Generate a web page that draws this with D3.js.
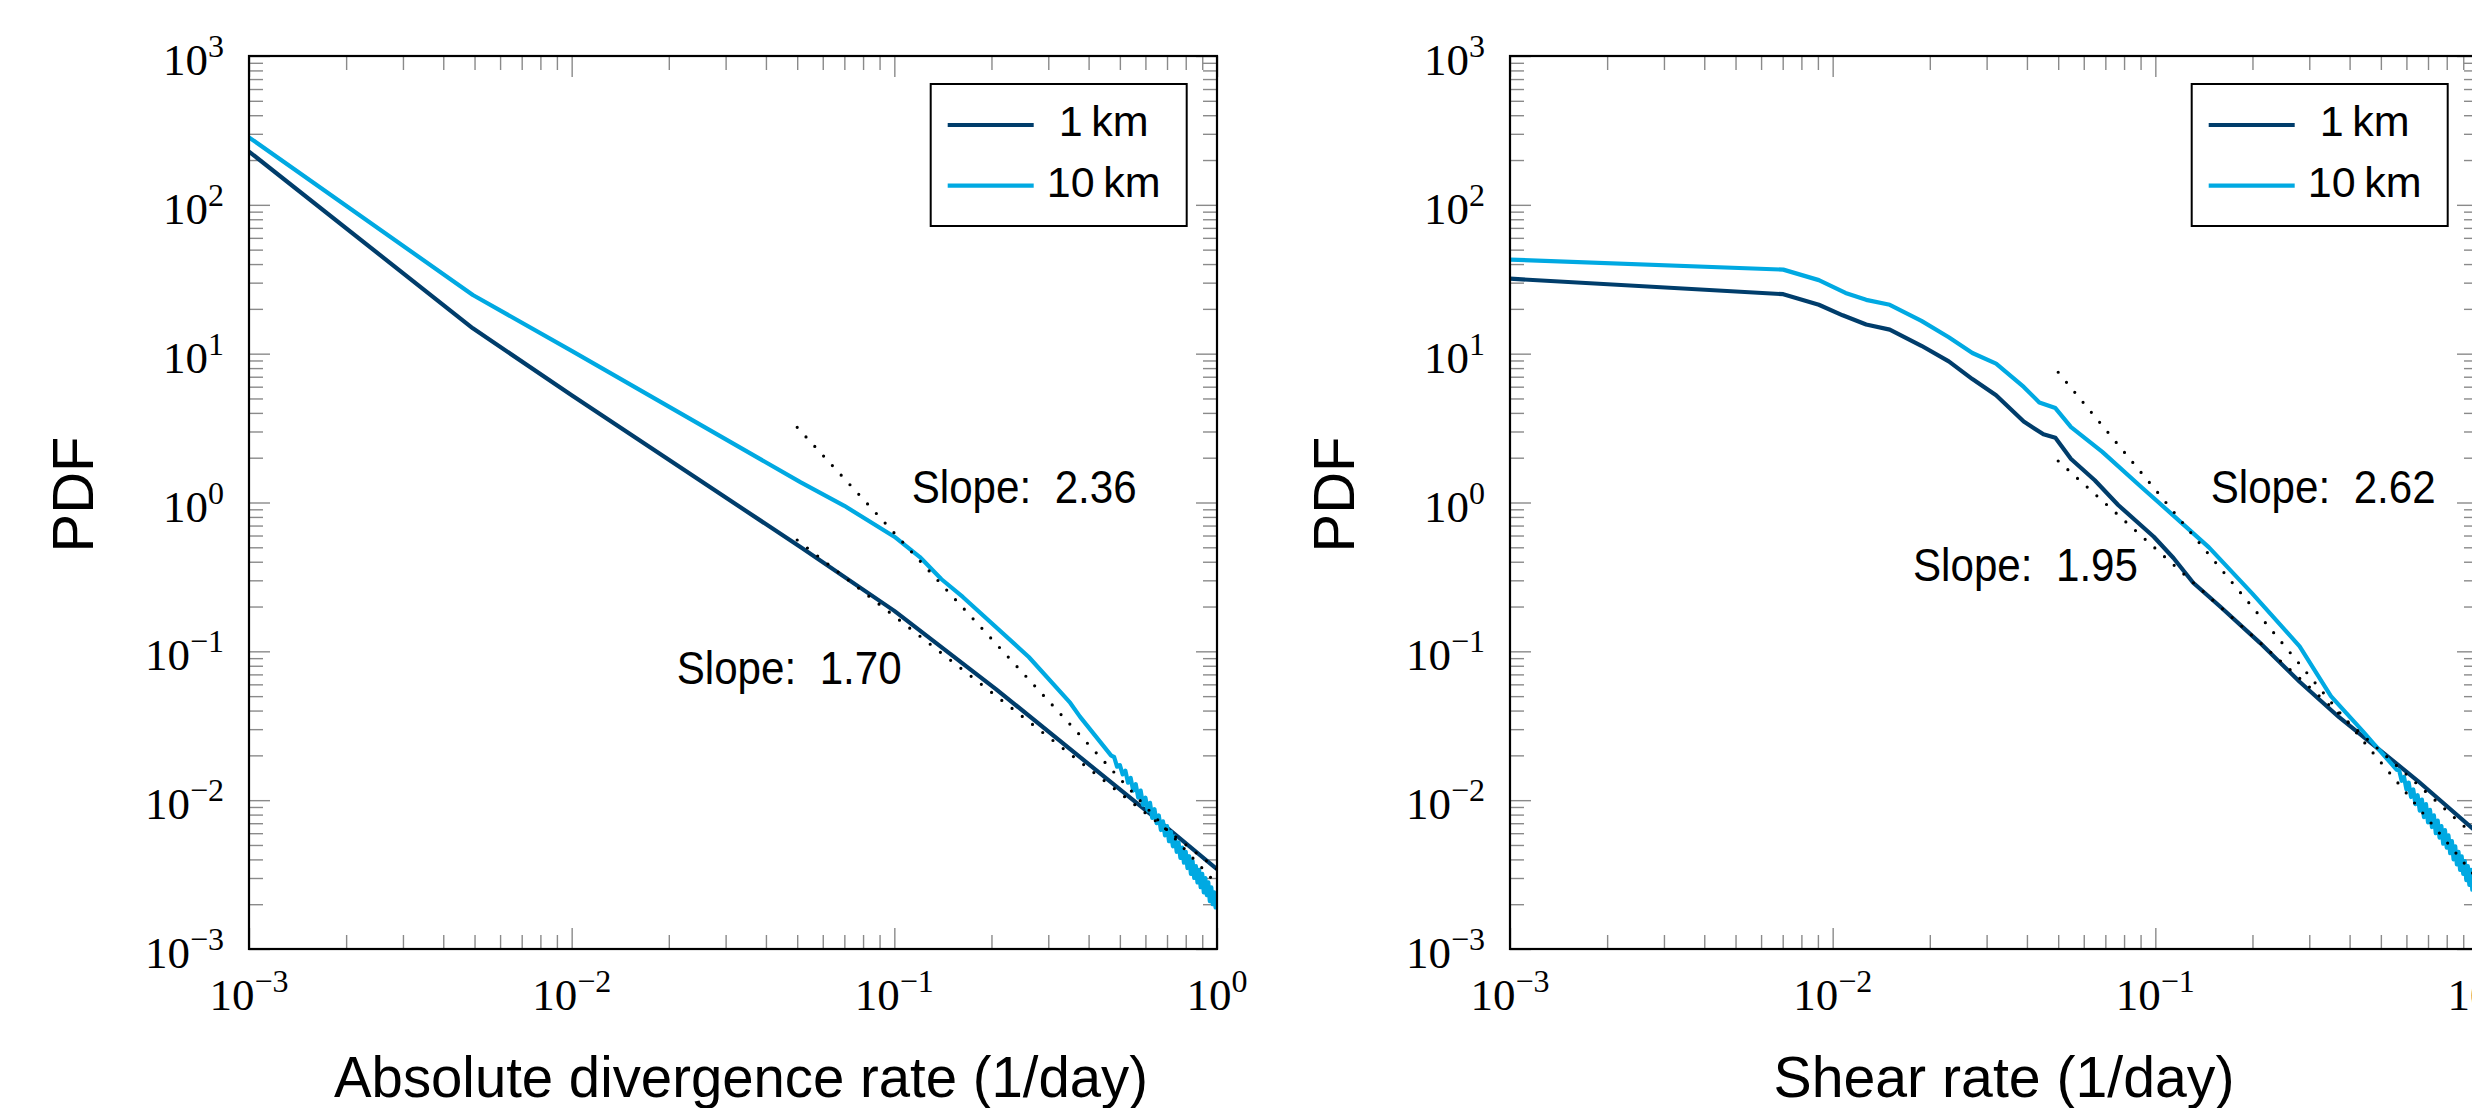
<!DOCTYPE html>
<head>
  <meta charset="utf-8">
  <title>PDF of deformation rates</title>
  <script src="https://cdn.jsdelivr.net/npm/d3@7"></script>
</head>

<style>
  body {
    margin: 0;
    background: white;
  }

  .ticks line {
    stroke: #8a8a8a;
    stroke-width: 1.4;
  }

  .frame {
    fill: none;
    stroke: black;
    stroke-width: 2.2;
  }

  .tick-label {
    font-family: "Liberation Serif", serif;
    font-size: 45px;
  }

  .axis-label {
    font-family: "Liberation Sans", sans-serif;
    font-size: 58px;
  }

  .slope-label {
    font-family: "Liberation Sans", sans-serif;
    font-size: 46px;
    white-space: pre;
  }

  .legend-text {
    font-family: "Liberation Sans", sans-serif;
    font-size: 43px;
  }

  .fit {
    fill: none;
    stroke: black;
    stroke-width: 3.2;
    stroke-linecap: round;
    stroke-dasharray: 0 13;
  }
</style>

<body>
  <svg id='chart'></svg>
</body>

<script>

var W = 2472,
    H = 1108,
    plot_w = 968,
    plot_h = 893,
    major_len = 21,
    minor_len = 14;

var colour_1km = '#003d6b',
    colour_10km = '#00a9e2';

var series_names = ['1\u2009km', '10\u2009km'];

var x_major = [1e-3, 1e-2, 1e-1, 1];
var y_major = [1e-3, 1e-2, 1e-1, 1, 1e1, 1e2, 1e3];
var minor_mult = [2, 3, 4, 5, 6, 7, 8, 9];

// absolute divergence rate, PDF
var div_1km = [[0.001, 228], [0.00494, 14.8], [0.01, 5.25], [0.0513, 0.50], [0.1, 0.187],
               [0.206, 0.056], [0.653, 0.0074], [1.0, 0.00344]];

var div_10km = [[0.001, 284], [0.00494, 24.8], [0.01, 10.45], [0.0513, 1.365], [0.07, 0.95], [0.1, 0.589],
                [0.12, 0.43], [0.140, 0.305], [0.163, 0.232], [0.261, 0.0916], [0.351, 0.045], [0.376, 0.0364],
                [0.47, 0.0199], [0.48, 0.0195], [0.49, 0.0168], [0.50, 0.0172], [0.51, 0.0149],
                [0.52, 0.0158], [0.53, 0.0131], [0.54, 0.0141], [0.55, 0.0116], [0.56, 0.0128],
                [0.57, 0.0104], [0.58, 0.0116], [0.59, 0.0093], [0.60, 0.0104], [0.61, 0.0085],
                [0.62, 0.0096], [0.63, 0.0076], [0.64, 0.0087], [0.65, 0.0070], [0.66, 0.0079],
                [0.67, 0.0063], [0.68, 0.0072], [0.69, 0.0058], [0.70, 0.0067], [0.71, 0.0053],
                [0.72, 0.0061], [0.73, 0.0049], [0.74, 0.0057], [0.75, 0.0045], [0.76, 0.0052],
                [0.77, 0.0041], [0.78, 0.0048], [0.79, 0.0038], [0.80, 0.0045], [0.81, 0.0035],
                [0.82, 0.0042], [0.83, 0.0032], [0.84, 0.0039], [0.85, 0.0030], [0.86, 0.0036],
                [0.87, 0.0028], [0.88, 0.0034], [0.89, 0.0026], [0.90, 0.0032], [0.91, 0.0024],
                [0.92, 0.0030], [0.93, 0.0023], [0.94, 0.0028], [0.95, 0.0021], [0.96, 0.0026],
                [0.97, 0.0020], [0.98, 0.0024], [0.99, 0.0019], [1.00, 0.0021]];

// shear rate, PDF
var shear_1km = [[0.001, 31.9], [0.00703, 25.1], [0.00906, 21.3], [0.01074, 18.1], [0.0127, 15.7],
                 [0.01503, 14.5], [0.01884, 11.3], [0.0229, 8.87], [0.0271, 6.75], [0.0321, 5.25],
                 [0.0391, 3.50], [0.045, 2.87], [0.049, 2.72], [0.0548, 1.96], [0.0649, 1.41],
                 [0.0767, 0.962], [0.0989, 0.589], [0.1138, 0.424], [0.131, 0.289], [0.16, 0.197],
                 [0.211, 0.114], [0.28, 0.0625], [0.371, 0.0361], [0.491, 0.0221], [0.65, 0.0135],
                 [1.0, 0.0060]];

var shear_10km = [[0.001, 42.9], [0.00703, 36.7], [0.00906, 31.2], [0.01096, 25.6], [0.0127, 23.0],
                  [0.01503, 21.3], [0.01884, 16.6], [0.0229, 12.9], [0.0271, 10.1], [0.0321, 8.57],
                  [0.0391, 5.98], [0.0437, 4.70], [0.049, 4.31], [0.0548, 3.21], [0.0685, 2.19],
                  [0.0908, 1.26], [0.1138, 0.817], [0.1466, 0.499], [0.1995, 0.245], [0.28, 0.108],
                  [0.35, 0.050], [0.44, 0.029], [0.474, 0.0241], [0.52, 0.0192], [0.56, 0.0160],
                  [0.57, 0.0158], [0.58, 0.0135], [0.59, 0.0143], [0.60, 0.0118], [0.61, 0.0131],
                  [0.62, 0.0105], [0.63, 0.0118], [0.64, 0.0094], [0.65, 0.0108], [0.66, 0.0085],
                  [0.67, 0.0101], [0.68, 0.0077], [0.69, 0.0094], [0.70, 0.0071], [0.71, 0.0086],
                  [0.72, 0.0066], [0.73, 0.0079], [0.74, 0.0060], [0.75, 0.0073], [0.76, 0.0056],
                  [0.77, 0.0067], [0.78, 0.0051], [0.79, 0.0063], [0.80, 0.0048], [0.81, 0.0058],
                  [0.82, 0.0044], [0.83, 0.0053], [0.84, 0.0040], [0.85, 0.0049], [0.86, 0.0037],
                  [0.87, 0.0045], [0.88, 0.0034], [0.89, 0.0042], [0.90, 0.0032], [0.91, 0.0039],
                  [0.92, 0.0029], [0.93, 0.0036], [0.94, 0.0027], [0.95, 0.0034], [0.96, 0.0025],
                  [0.97, 0.0031], [0.98, 0.0024], [0.99, 0.0029], [1.00, 0.0023]];

// power-law fits: end points and slope text
var div_fit_1km = [[0.05, 0.56], [1, 0.00344]];
var div_fit_10km = [[0.05, 3.2], [1, 0.00272]];
var shear_fit_1km = [[0.05, 1.9], [1, 0.0055]];
var shear_fit_10km = [[0.05, 7.5], [1, 0.00292]];

var div_slopes = ['Slope:  1.70', 'Slope:  2.36'];
var shear_slopes = ['Slope:  1.95', 'Slope:  2.62'];

var panels = [
  {left: 249, top: 56, xlabel: 'Absolute divergence rate (1/day)', xlabel_dx: 8, xlabel_w: 814,
   lines: [div_1km, div_10km], fits: [div_fit_1km, div_fit_10km], slopes: div_slopes,
   slope_pos: [[427.7, 628], [662.7, 446.7]]},
  {left: 1510, top: 56, xlabel: 'Shear rate (1/day)', xlabel_dx: 10, xlabel_w: 461,
   lines: [shear_1km, shear_10km], fits: [shear_fit_1km, shear_fit_10km], slopes: shear_slopes,
   slope_pos: [[403, 525], [700.7, 446.7]]}
];

var svg = d3.select('#chart')
  .attr('width', W)
  .attr('height', H);

svg.append('rect')
  .attr('width', W)
  .attr('height', H)
  .attr('fill', 'white');

var x_minor = [], y_minor = [];
x_major.slice(0, -1).forEach(function(d) {
  minor_mult.forEach(function(m) { x_minor.push(m * d); });
});
y_major.slice(0, -1).forEach(function(d) {
  minor_mult.forEach(function(m) { y_minor.push(m * d); });
});

panels.forEach(function(p, i) { draw_panel(p, i); });

function draw_panel(p, i) {

  var g = svg.append('g')
    .attr('transform', 'translate(' + p.left + ',' + p.top + ')');

  var x = d3.scaleLog().domain([1e-3, 1]).range([0, plot_w]);
  var y = d3.scaleLog().domain([1e-3, 1e3]).range([plot_h, 0]);

  g.append('clipPath')
    .attr('id', 'clip' + i)
    .append('rect')
    .attr('width', plot_w)
    .attr('height', plot_h);

  // ticks, inside on all four sides
  [[x_major, major_len], [x_minor, minor_len]].forEach(function(t) {
    g.append('g').attr('class', 'ticks')
      .attr('transform', 'translate(0,' + plot_h + ')')
      .call(d3.axisBottom(x).tickValues(t[0]).tickSize(-t[1]).tickFormat(''))
      .call(clean_axis);
    g.append('g').attr('class', 'ticks')
      .call(d3.axisTop(x).tickValues(t[0]).tickSize(-t[1]).tickFormat(''))
      .call(clean_axis);
  });
  [[y_major, major_len], [y_minor, minor_len]].forEach(function(t) {
    g.append('g').attr('class', 'ticks')
      .call(d3.axisLeft(y).tickValues(t[0]).tickSize(-t[1]).tickFormat(''))
      .call(clean_axis);
    g.append('g').attr('class', 'ticks')
      .attr('transform', 'translate(' + plot_w + ',0)')
      .call(d3.axisRight(y).tickValues(t[0]).tickSize(-t[1]).tickFormat(''))
      .call(clean_axis);
  });

  // tick labels 10^n
  x_major.forEach(function(v) {
    power_label(g.append('text')
      .attr('class', 'tick-label')
      .attr('x', x(v))
      .attr('y', plot_h + 61)
      .attr('text-anchor', 'middle'), v);
  });
  y_major.forEach(function(v) {
    power_label(g.append('text')
      .attr('class', 'tick-label')
      .attr('x', -25)
      .attr('y', y(v) + 19)
      .attr('text-anchor', 'end'), v);
  });

  // curves
  var line = d3.line()
    .x(function(d) { return x(d[0]); })
    .y(function(d) { return y(d[1]); });

  var curves = g.append('g').attr('clip-path', 'url(#clip' + i + ')');
  var colours = [colour_1km, colour_10km];

  p.lines.forEach(function(d, k) {
    curves.append('path')
      .datum(d)
      .attr('d', line)
      .attr('fill', 'none')
      .attr('stroke', colours[k])
      .attr('stroke-width', 4.2)
      .attr('stroke-linejoin', 'round');
  });

  p.fits.forEach(function(d) {
    curves.append('path')
      .datum(d)
      .attr('class', 'fit')
      .attr('d', line);
  });

  p.slopes.forEach(function(s, k) {
    g.append('text')
      .attr('class', 'slope-label')
      .attr('x', p.slope_pos[k][0])
      .attr('y', p.slope_pos[k][1])
      .attr('textLength', 225)
      .attr('lengthAdjust', 'spacingAndGlyphs')
      .text(s);
  });

  g.append('rect')
    .attr('class', 'frame')
    .attr('width', plot_w)
    .attr('height', plot_h);

  // legend
  var leg = g.append('g').attr('transform', 'translate(681.7,28)');
  leg.append('rect')
    .attr('width', 256)
    .attr('height', 142)
    .attr('fill', 'white')
    .attr('stroke', 'black')
    .attr('stroke-width', 2);
  series_names.forEach(function(name, k) {
    leg.append('line')
      .attr('x1', 17).attr('x2', 103)
      .attr('y1', 41 + k * 60.7).attr('y2', 41 + k * 60.7)
      .attr('stroke', colours[k])
      .attr('stroke-width', 4.2);
    leg.append('text')
      .attr('class', 'legend-text')
      .attr('x', 173)
      .attr('y', 52 + k * 60.7)
      .attr('text-anchor', 'middle')
      .text(name);
  });

  // axis labels
  g.append('text')
    .attr('class', 'axis-label')
    .attr('x', plot_w / 2 + p.xlabel_dx)
    .attr('y', 1097 - p.top)
    .attr('text-anchor', 'middle')
    .attr('textLength', p.xlabel_w)
    .attr('lengthAdjust', 'spacingAndGlyphs')
    .text(p.xlabel);

  g.append('text')
    .attr('class', 'axis-label')
    .attr('transform', 'translate(-156,' + (plot_h / 2 - 8) + ') rotate(-90)')
    .attr('text-anchor', 'middle')
    .text('PDF');
}

function clean_axis(sel) {
  sel.select('.domain').remove();
  sel.selectAll('text').remove();
}

function power_label(t, v) {
  var e = Math.round(Math.log10(v));
  t.append('tspan').text('10');
  t.append('tspan')
    .attr('dy', -18)
    .attr('font-size', '32px')
    .text(e < 0 ? '\u2212' + (-e) : '' + e);
}

</script>
